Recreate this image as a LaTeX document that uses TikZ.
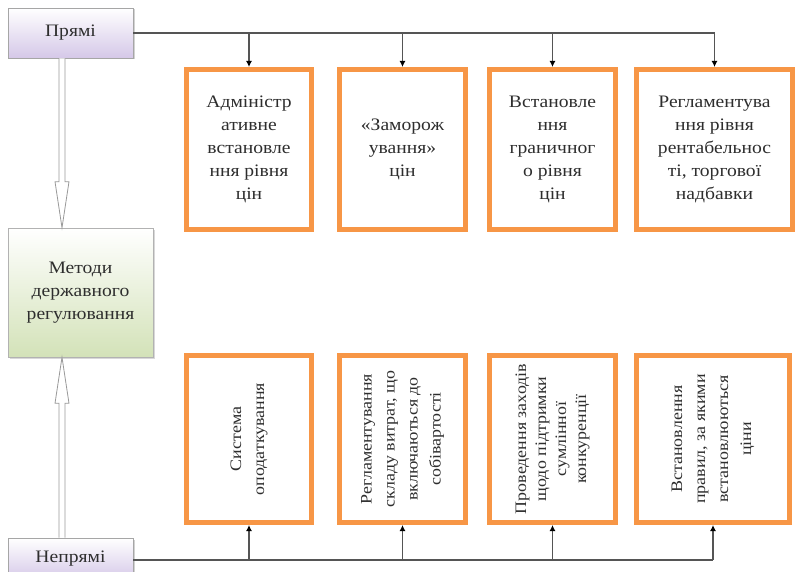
\documentclass[tikz,border=0pt]{standalone}
\usepackage{fontspec}
\setmainfont{Liberation Serif}[FakeStretch=1.12]
\usetikzlibrary{arrows.meta,shadows,calc}
\definecolor{orng}{HTML}{F79646}
\definecolor{lav}{HTML}{D5C8E8}
\definecolor{grn}{HTML}{D3E2B8}
\definecolor{txt}{HTML}{2E2E2E}
\definecolor{ln}{HTML}{555555}
\begin{document}
\begin{tikzpicture}[x=1pt,y=-1pt,
  obox/.style={draw=orng,line width=5pt,fill=white,inner sep=0pt,align=center,text=txt},
  pbox/.style={draw=gray!70,line width=0.6pt,top color=white,bottom color=lav,inner sep=0pt,text=txt,
     drop shadow={shadow xshift=1.5pt,shadow yshift=-1.5pt,opacity=0.35}},
  mbox/.style={draw=gray!60,line width=0.6pt,top color=white,bottom color=grn,inner sep=0pt,align=center,text=txt,
     drop shadow={shadow xshift=1.5pt,shadow yshift=-1.5pt,opacity=0.3}},
  bus/.style={draw=ln,line width=1.2pt},
  arr/.style={draw=ln,line width=1.2pt,-{Latex[length=6pt,width=6pt,black]}},
  hollow/.style={draw=gray!80,line width=0.8pt,fill=white,line join=miter},
  tf/.style={font=\fontsize{17.5}{23}\selectfont},
  bf/.style={font=\fontsize{16}{23}\selectfont}]
\clip (0,0) rectangle (800,572);
\fill[white] (0,0) rectangle (800,572);

% left column
\node[pbox,minimum width=125pt,minimum height=50pt,tf] (p) at (70.5,33) {Прямі};
\node[mbox,minimum width=145pt,minimum height=129pt,tf] (m) at (80.5,292.5) {Методи\\державного\\регулювання};
\node[pbox,minimum width=125pt,minimum height=42pt,tf] (n) at (70.5,559) {Непрямі};

% top boxes
\node[obox,tf,minimum width=125pt,minimum height=160pt] (t1) at (249,149.5) {Адміністр\\ативне\\встановле\\ння рівня\\цін};
\node[obox,tf,minimum width=126pt,minimum height=160pt] (t2) at (402.5,149.5) {«Заморож\\ування»\\цін};
\node[obox,tf,minimum width=126pt,minimum height=160pt] (t3) at (552.5,149.5) {Встановле\\ння\\граничног\\о рівня\\цін};
\node[obox,tf,minimum width=156pt,minimum height=160pt] (t4) at (714.5,149.5) {Регламентува\\ння рівня\\рентабельнос\\ті, торгової\\надбавки};

% bottom boxes
\node[obox,minimum width=125pt,minimum height=167pt] (b1) at (249,439) {};
\node[obox,minimum width=126pt,minimum height=167pt] (b2) at (402.5,439) {};
\node[obox,minimum width=126pt,minimum height=167pt] (b3) at (552.5,439) {};
\node[obox,minimum width=153pt,minimum height=167pt] (b4) at (713,439) {};
\node[rotate=90,bf,align=center,text=txt] (b1t) at (b1.center) {Система\\оподаткування};
\node[rotate=90,bf,align=center,text=txt] (b2t) at (b2.center) {Регламентування\\складу витрат, що\\включаються до\\собівартості};
\node[rotate=90,bf,align=center,text=txt,font=\fontsize{16}{20}\selectfont] (b3t) at (b3.center) {Проведення заходів\\щодо підтримки\\сумлінної\\конкуренції};
\node[rotate=90,bf,align=center,text=txt] (b4t) at (b4.center) {Встановлення\\правил, за якими\\встановлюються\\ціни};

% top bus
\draw[bus] (p.east) -- (p.east -| t4.north);
\foreach \b in {t1,t2,t3,t4} \draw[arr] (p.east -| \b.north) -- (\b.north);
% bottom bus
\coordinate (nb) at ($(n.east)+(0,1)$);
\draw[bus] (nb) -- (nb -| b4.south);
\foreach \b in {b1,b2,b3,b4} \draw[arr] (nb -| \b.south) -- (\b.south);

% hollow double arrows
\coordinate (ax) at (62,0);
\draw[hollow] ($(ax|-p.south)+(-3,0)$) -- ($(ax|-m.north)+(-3,-46)$) -- ++(-4,0) -- (ax|-m.north)
   -- ($(ax|-m.north)+(7,-46)$) -- ++(-4,0) -- ($(ax|-p.south)+(3,0)$);
\draw[hollow] ($(ax|-n.north)+(-3,0)$) -- ($(ax|-m.south)+(-3,46)$) -- ++(-4,0) -- (ax|-m.south)
   -- ($(ax|-m.south)+(7,46)$) -- ++(-4,0) -- ($(ax|-n.north)+(3,0)$);
\end{tikzpicture}
\end{document}
